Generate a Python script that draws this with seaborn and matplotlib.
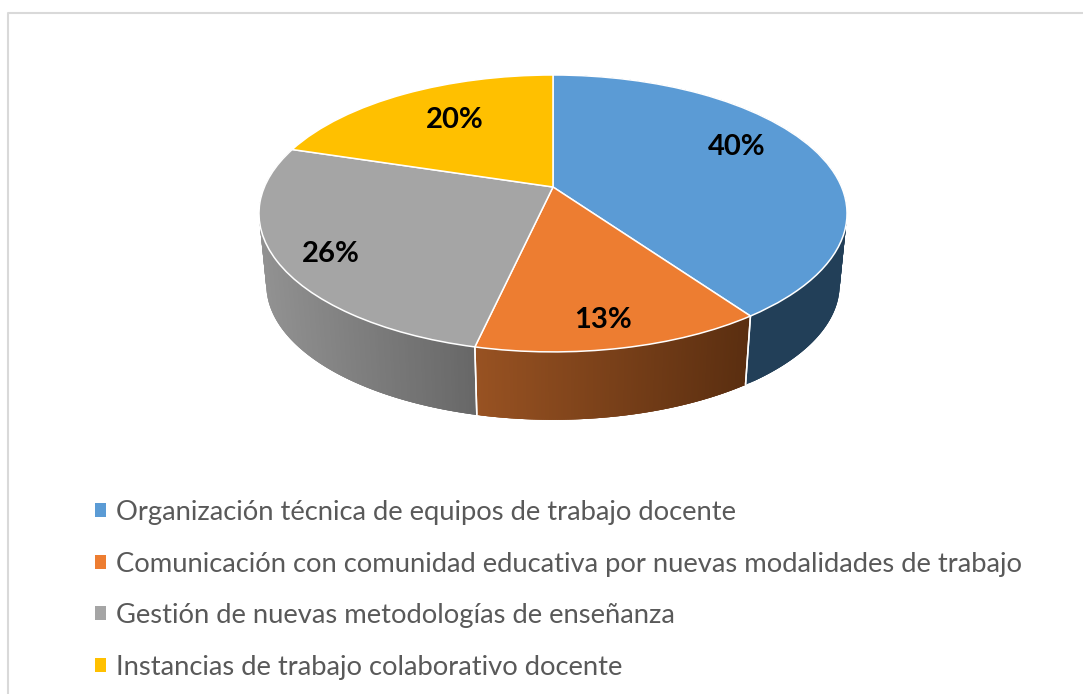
import numpy as np
import matplotlib
matplotlib.use("Agg")
import matplotlib.pyplot as plt
from matplotlib.collections import PolyCollection
from matplotlib.colors import to_rgb
from matplotlib.transforms import Transform
import seaborn as sns

categories = [
    "Organización técnica de equipos de trabajo docente",
    "Comunicación con comunidad educativa por nuevas modalidades de trabajo",
    "Gestión de nuevas metodologías de enseñanza",
    "Instancias de trabajo colaborativo docente",
]
values = [39.8, 13.2, 26, 20]
value_labels = ["40%", "13%", "26%", "20%"]
colors = ["#5b9bd5", "#ed7d31", "#a5a5a5", "#ffc000"]
side_left = ["#223f58", "#985222", "#929292", "#7f6000"]
side_right = ["#223f58", "#5a2e10", "#676767", "#7f6000"]
label_xy = [(737, 147), (603, 320), (331, 254), (455, 120)]

# projection of the unit-circle pie onto the tilted disc (pixel coordinates)
CX, CY, RX, RY, K = 553.0, 187.0, 288.6, 133.4, 0.191
BOTTOM_SCALE, BOTTOM_CY = 0.975, 259.0


def project(xy):
    xy = np.asarray(xy, dtype=float)
    w = 1 + K * xy[..., 1]
    return np.stack([CX + RX * xy[..., 0] / w, CY - RY * xy[..., 1] / w], axis=-1)


class Tilt(Transform):
    input_dims = output_dims = 2
    is_separable = False
    has_inverse = False

    def transform_non_affine(self, values):
        return project(values)


def lower(p):
    return np.stack([CX + BOTTOM_SCALE * (p[..., 0] - CX),
                     BOTTOM_CY + BOTTOM_SCALE * (p[..., 1] - CY)], axis=-1)


sns.set_theme(style="white")
plt.rcParams["font.family"] = ["Lato", "DejaVu Sans"]

fig = plt.figure(figsize=(10.83, 6.94), dpi=100, facecolor="white")
ax = fig.add_axes([0, 0, 1, 1])

wedges, _ = ax.pie(values, colors=sns.color_palette(colors), startangle=90,
                   counterclock=False,
                   wedgeprops=dict(edgecolor="white", linewidth=1.1))
ax.set_aspect("auto")
ax.set_xlim(0, 1083)
ax.set_ylim(694, 0)
ax.axis("off")

tilt = Tilt()
for wedge, lc, rc in zip(wedges, side_left, side_right):
    wedge.set_transform(tilt + ax.transData)
    wedge.set_zorder(3)
    wedge.set_clip_on(False)

    th = np.radians(np.linspace(wedge.theta1, wedge.theta2, 160))
    top = project(np.column_stack([np.cos(th), np.sin(th)]))
    bot = lower(top)
    front = np.sin(th) < -K + 0.02
    if front.sum() < 2:
        continue
    x0, x1 = top[front, 0].min(), top[front, 0].max()
    quads, cols = [], []
    # each sliver overlaps the next one, so no seams show through the wall
    for i in range(len(th) - 1):
        j = min(i + 3, len(th) - 1)
        quads.append([top[i], top[j], bot[j], bot[i]])
        t = np.clip((top[i, 0] - x0) / (x1 - x0), 0, 1)
        cols.append(tuple((1 - t) * np.array(to_rgb(lc)) + t * np.array(to_rgb(rc))))
    ax.add_collection(PolyCollection(quads, facecolors=cols, edgecolors="none",
                                     linewidths=0, zorder=1), autolim=False)
    for end in (0, -1):
        if np.sin(th[end]) < 0:
            ax.plot([top[end, 0], bot[end, 0]], [top[end, 1], bot[end, 1]],
                    color="white", lw=1.1, zorder=2, solid_capstyle="butt")

for txt, (x, y) in zip(value_labels, label_xy):
    ax.text(x, y, txt, ha="center", va="center", fontsize=21, fontweight="bold",
            color="black", zorder=5)

# chart-area frame: only its top and left edges fall inside the picture
ax.plot([7.5, 7.5, 1083], [694, 12.5, 12.5], color="#d9d9d9", lw=1.5, zorder=0,
        clip_on=False)

leg = ax.legend(wedges, categories, loc="upper left", bbox_to_anchor=(95, 500),
                bbox_transform=ax.transData, frameon=False, fontsize=19.7,
                labelcolor="#595959", handlelength=0.41, handleheight=0.41,
                handletextpad=0.37, labelspacing=0.97, borderpad=0, borderaxespad=0)
for h in leg.legend_handles:
    h.set_edgecolor("none")

fig.savefig("out.png", dpi=100, facecolor="white")
